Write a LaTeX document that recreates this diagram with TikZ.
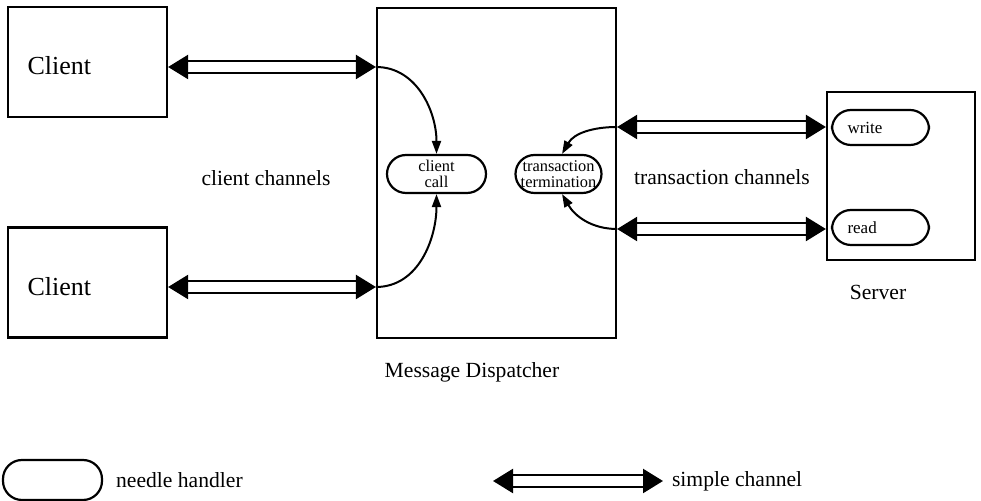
\documentclass[tikz,border=0pt]{standalone}
\usepackage{fontspec}
\setmainfont{Liberation Serif}
\usetikzlibrary{arrows.meta,shapes,positioning}
\tikzstyle{unit}=[rectangle, draw, line width=1.1pt
,inner sep=0pt
]
\tikzstyle{handler}=[rectangle, draw, rounded corners=9.5pt, line width=1.1pt
,minimum width=49.5pt, minimum height=19pt, inner sep=0pt
,align=center, font=\fontsize{8.2}{7.9}\selectfont
]
\tikzstyle{caption}=[font=\fontsize{10.8}{13}\selectfont]
\tikzstyle{channel} = [draw, double, double distance=4.6pt, line width=1.2pt,
  {Triangle[length=10pt,width=12pt]}-{Triangle[length=10pt,width=12pt]}]
\tikzstyle{link} = [draw, line width=1pt, -{Triangle[length=6.5pt,width=4.5pt]}]

\begin{document}
\begin{tikzpicture}[x=0.5pt,y=-0.5pt]
    \useasboundingbox (0,0) rectangle (981,501);
    % Clients, dispatcher and server
    \foreach \pos/\name in {{(87.5,62)/client1}, {(87.5,282.5)/client2}}
        \node[unit, minimum width=79.5pt, minimum height=55pt, text width=60pt,
              inner xsep=9.75pt, align=left, text height=13pt, text depth=0pt,
              font=\fontsize{13}{15}\selectfont]
              (\name) at \pos {Client};
    \node[unit, minimum width=119.5pt, minimum height=165pt] (dispatcher) at (496.5,173) {};
    \node[unit, minimum width=74pt, minimum height=84pt] (server) at (901,176) {};

    % Needle handlers
    \node[handler] (call) at (436.5,174) {client\\call};
    \node[handler, minimum width=43pt] (termination) at (558.5,174) {transaction\\termination};
    \foreach \pos/\name/\txt in {{(880.5,127.5)/write/write}, {(880.5,227.5)/read/read}}
        \node[handler, minimum width=48.5pt, minimum height=17.5pt, text width=33pt,
              align=left, font=\fontsize{8.5}{9}\selectfont] (\name) at \pos {\txt};

    % Channel rows
    \coordinate (row1) at (0,67);
    \coordinate (row2) at (0,287);
    \coordinate (row3) at (0,127);
    \coordinate (row4) at (0,229);
    \foreach \source/\row in {client1/row1, client2/row2}
        \path[channel] (\source.east |- \row) -- (dispatcher.west |- \row);
    \foreach \row in {row3, row4}
        \path[channel] (dispatcher.east |- \row) -- (server.west |- \row);

    % Channels into the handlers
    \path[link] (dispatcher.west |- row1) to[out=0,in=90] (call.north);
    \path[link] (dispatcher.west |- row2) to[out=0,in=-90] (call.south);
    \path[link] (dispatcher.east |- row3) to[out=180,in=60] (termination.80);
    \path[link] (dispatcher.east |- row4) to[out=180,in=-60] (termination.-80);

    % Labels
    \node[caption] (clientlbl) at (266,178) {client channels};
    \node[caption] (translbl) at (722,177) {transaction channels};
    \node[caption] (displbl) at (472,372) {Message Dispatcher};
    \node[caption] (serverlbl) at (878,292) {Server};

    % Key
    \node[handler, minimum height=20pt] (key) at (52.5,480) {};
    \node[caption, right=3pt of key] (keylbl) {needle handler};
    \coordinate (keyl) at (493,481);
    \coordinate (keyr) at (663,481);
    \path[channel] (keyl) -- (keyr);
    \node[caption, right=1pt of keyr] (chanlbl) {simple channel};
\end{tikzpicture}
\end{document}
